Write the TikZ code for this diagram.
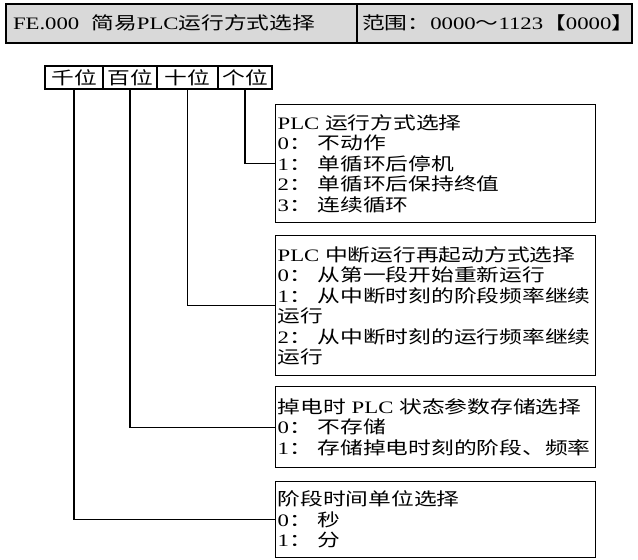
\documentclass[tikz,border=0pt]{standalone}
\usepackage{fontspec}
\setmainfont{Liberation Serif}[FakeStretch=1.3]
\newfontfamily\cjkfont{Noto Sans CJK SC}[FakeStretch=1.3]
\newcommand{\zhtext}[1]{{\cjkfont #1}}
\usepackage{xcolor}
\usepackage{tikz}
\usetikzlibrary{positioning}
\definecolor{hdgray}{RGB}{217,217,217}
\tikzset{
  hdbox/.style={draw, line width=2pt, fill=hdgray, outer sep=0pt, minimum height=39pt, inner ysep=0pt, align=left, font=\fontsize{17.5}{20}\selectfont},
  digit/.style={draw, line width=1.2pt, outer sep=0pt, minimum height=23pt, inner sep=0pt, font=\fontsize{17.5}{20}\selectfont},
  optbox/.style={draw, line width=1.3pt, anchor=north west, text width=316pt, inner xsep=2pt, align=left, font=\fontsize{17.5}{20.5}\selectfont},
  link/.style={line width=1.2pt},
}

\begin{document}
\begin{tikzpicture}[x=1pt, y=-1pt]
  \useasboundingbox (0,0) rectangle (638,560);
  % header
  \node[hdbox, anchor=north west, text width=337pt, inner xsep=7pt] (hdname) at (6,3.5)
    {FE.000\hspace{12pt}\zhtext{简易}PLC\zhtext{运行方式选择}};
  \node[hdbox, text width=265pt, inner xsep=5pt, right=0pt of hdname] (hdrange)
    {\zhtext{范围：}0000\zhtext{～}1123\zhtext{【}0000\zhtext{】}};
  % digit cells
  \node[digit, minimum width=58pt, anchor=north west] (qian) at (45,66) {\zhtext{千位}};
  \node[digit, minimum width=54pt, right=0pt of qian] (bai) {\zhtext{百位}};
  \node[digit, minimum width=61pt, right=0pt of bai] (shi) {\zhtext{十位}};
  \node[digit, minimum width=54pt, right=0pt of shi] (ge) {\zhtext{个位}};
  % option boxes
  \node[optbox, minimum height=118pt] (mode) at (275,104)
    {PLC \zhtext{运行方式选择}\\
     0\zhtext{：~不动作}\\
     1\zhtext{：~单循环后停机}\\
     2\zhtext{：~单循环后保持终值}\\
     3\zhtext{：~连续循环}};
  \node[optbox, minimum height=140pt] (restart) at (275,235)
    {PLC \zhtext{中断运行再起动方式选择}\\
     0\zhtext{：~从第一段开始重新运行}\\
     1\zhtext{：~从中断时刻的阶段频率继续}\\
     \zhtext{运行}\\
     2\zhtext{：~从中断时刻的运行频率继续}\\
     \zhtext{运行}};
  \node[optbox, minimum height=81pt] (store) at (275,386)
    {\zhtext{掉电时} PLC \zhtext{状态参数存储选择}\\
     0\zhtext{：~不存储}\\
     1\zhtext{：~存储掉电时刻的阶段、频率}};
  \node[optbox, minimum height=76pt] (unit) at (275,481)
    {\zhtext{阶段时间单位选择}\\
     0\zhtext{：~秒}\\
     1\zhtext{：~分}};
  % connectors
  \draw[link] (ge.south) |- (mode.west);
  \draw[link] (shi.south) |- (restart.west);
  \draw[link] (bai.south) |- (store.west);
  \draw[link] (qian.south) |- (unit.west);
\end{tikzpicture}
\end{document}
